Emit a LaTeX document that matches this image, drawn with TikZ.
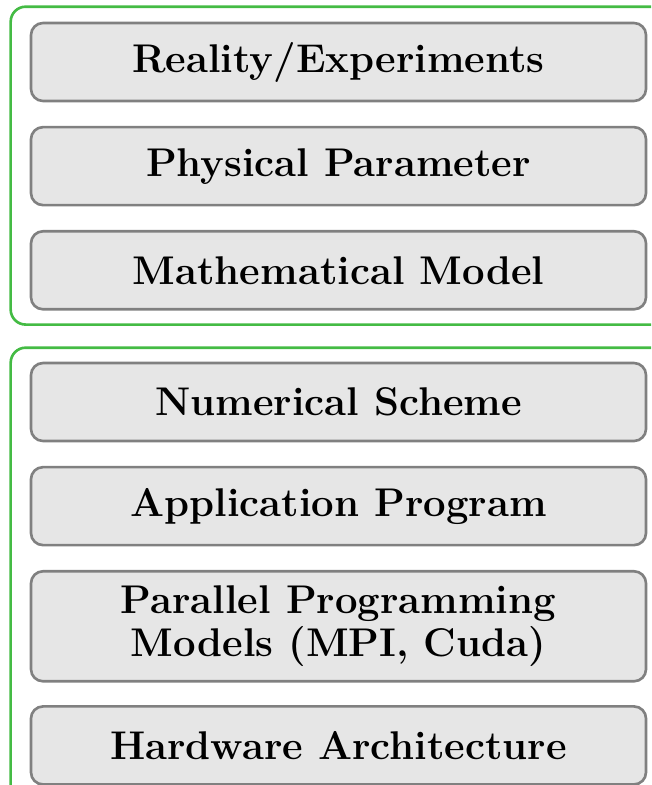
\documentclass[tikz,border=0pt]{standalone}
\usepackage{tikz}
\usetikzlibrary{positioning,calc}
\definecolor{frame}{HTML}{44BB44}
\definecolor{boxfill}{HTML}{E6E6E6}
\definecolor{boxline}{HTML}{808080}

\begin{document}
\begin{tikzpicture}[
  font=\fontsize{11.4}{12.4}\selectfont\bfseries,
  layer/.style={draw=boxline,fill=boxfill,line width=0.75pt,rounded corners=0.12cm,
    minimum width=6.15cm,minimum height=0.78cm,inner sep=1pt,align=center},
  group/.style={draw=frame,line width=0.75pt,rounded corners=0.15cm}
]
\useasboundingbox (0,0) rectangle (6.51,-7.85);
\clip (0,0) rectangle (6.51,-7.85);
% --- upper group: modelling ----------------------------------------------
\node[layer] (real) at (3.385,-0.62) {Reality/Experiments};
\node[layer,below=0.235cm of real] (phys) {Physical Parameter};
\node[layer,below=0.235cm of phys] (math) {Mathematical Model};
\draw[group] ($(real.north west)+(-0.19,0.15)$) rectangle ($(math.south east)+(1.0,-0.14)$);
% --- lower group: computing ----------------------------------------------
\node[layer] (num) at (3.385,-4.02) {Numerical Scheme};
\node[layer,below=0.235cm of num] (app) {Application Program};
\node[layer,below=0.235cm of app,minimum height=1.10cm] (par)
  {Parallel Programming\\Models (MPI, Cuda)};
\node[layer,below=0.225cm of par] (hw) {Hardware Architecture};
\draw[group] ($(num.north west)+(-0.19,0.14)$) rectangle ($(hw.south east)+(1.0,-1.0)$);
\end{tikzpicture}
\end{document}
